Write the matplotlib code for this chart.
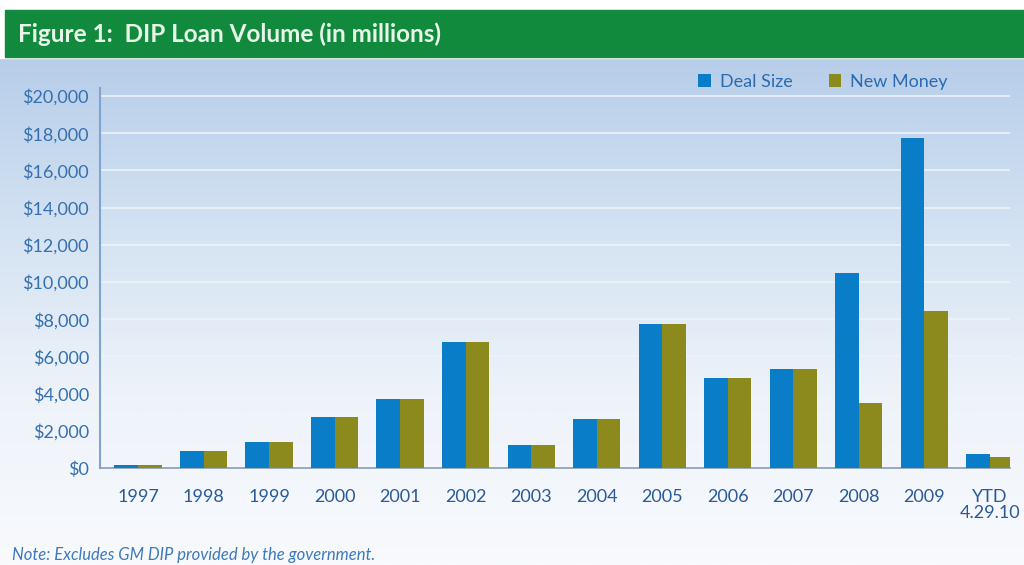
import numpy as np
import matplotlib
matplotlib.use("Agg")
import matplotlib.pyplot as plt
from matplotlib.colors import LinearSegmentedColormap
from matplotlib.patches import Rectangle

categories = ["1997", "1998", "1999", "2000", "2001", "2002", "2003",
              "2004", "2005", "2006", "2007", "2008", "2009", "YTD\n4.29.10"]
deal_size = [150, 900, 1400, 2750, 3700, 6800, 1250, 2650, 7750, 4850, 5300, 10500, 17750, 750]
new_money = [150, 900, 1400, 2750, 3700, 6800, 1250, 2650, 7750, 4850, 5300, 3500, 8450, 600]
yticks = [0, 2000, 4000, 6000, 8000, 10000, 12000, 14000, 16000, 18000, 20000]

plt.rcParams['font.family'] = ['Lato', 'DejaVu Sans']

W, H = 1024, 565
fig = plt.figure(figsize=(W / 100, H / 100), dpi=100)

# background gradient
bg = fig.add_axes([0, 0, 1, 1], zorder=-10)
cmap = LinearSegmentedColormap.from_list("bg", ["#b7cde9", "#d3e2f2", "#eef3fa", "#f8fafd"])
grad = np.linspace(0, 1, 256).reshape(-1, 1)
bg.imshow(grad, aspect="auto", cmap=cmap, extent=[0, 1, 0, 1 - 58 / H], origin="upper")
bg.set_xlim(0, 1)
bg.set_ylim(0, 1)
bg.axis("off")
bg.add_patch(Rectangle((0, 1 - 58 / H), 1, 58 / H, color="white", zorder=1))
bg.add_patch(Rectangle((5 / W, 1 - 57 / H), 1 - 5 / W, 47 / H, color="#118a3d", zorder=2))
fig.text(18 / W, 1 - 34 / H, "Figure 1:  DIP Loan Volume (in millions)", color="#e8f6ea",
         fontsize=17.5, fontweight="bold", va="center", ha="left")

ax = fig.add_axes([100 / W, 1 - 468 / H, 910 / W, 380 / H])
ax.set_facecolor("none")
x = np.arange(len(categories))
bw = 0.36
ax.bar(x - bw / 2, deal_size, bw, color="#0a7dc8", label="Deal Size", zorder=3)
ax.bar(x + bw / 2, new_money, bw, color="#8c8a1c", label="New Money", zorder=3)

ax.set_xlim(-0.58, len(categories) - 1 + 0.31)
ax.set_ylim(0, 20000 * 380 / 372)
ax.set_yticks(yticks)
ax.set_yticklabels([f"${v:,}" for v in yticks])
ax.set_xticks(x)
ax.set_xticklabels(categories, linespacing=1.05)
ax.tick_params(axis="both", length=0, labelsize=13, colors="#2a5a98")
ax.tick_params(axis="x", pad=15)
ax.tick_params(axis="y", pad=8)
for lab in ax.get_yticklabels():
    lab.set_color("#3570b0")
ax.grid(axis="y", color="#edf3fa", linewidth=1.2, zorder=1)
for s in ["top", "right"]:
    ax.spines[s].set_visible(False)
ax.spines["left"].set_color("#7ea4d2")
ax.spines["left"].set_linewidth(1.5)
ax.spines["bottom"].set_color("#8a9db5")
ax.spines["bottom"].set_linewidth(1.2)

leg = ax.legend(loc="center left", bbox_to_anchor=(591 / 910, (468 - 82) / 380), ncol=2,
                frameon=False, fontsize=13, handlelength=0.7, handleheight=0.7,
                columnspacing=2.0, handletextpad=0.5, borderaxespad=0)
for t in leg.get_texts():
    t.set_color("#2a6bb3")

fig.text(12 / W, 1 - 555 / H, "Note: Excludes GM DIP provided by the government.",
         color="#3c7abd", fontsize=12, style="italic", va="center", ha="left")

fig.savefig("out.png", dpi=100)
